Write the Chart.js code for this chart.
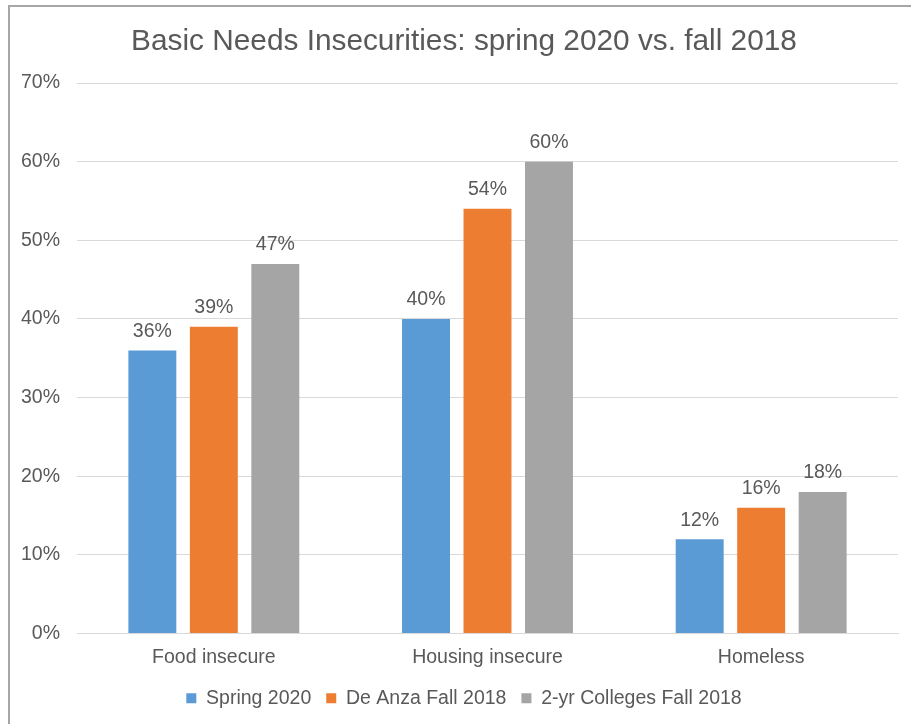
<!DOCTYPE html>
<html>
<head>
<meta charset="utf-8">
<style>
  html, body { margin: 0; padding: 0; background: #fff; overflow: hidden; }
  #wrap { position: relative; width: 911px; height: 724px; overflow: hidden; }
  #frame {
    position: absolute; left: 8px; top: 5px; width: 903px; height: 719px;
    border-top: 2px solid #a6a6a6; border-left: 2px solid #a6a6a6;
    box-sizing: border-box;
  }
  #chart { position: absolute; left: 0; top: 0; }
</style>
<script src="https://cdn.jsdelivr.net/npm/chart.js"></script>
</head>
<body>
<div id="wrap">
  <div id="frame"></div>
  <canvas id="chart" width="911" height="724"></canvas>
</div>
<script>
  var categories = ['Food insecure', 'Housing insecure', 'Homeless'];
  var spring2020 = [36, 40, 12];
  var deAnzaFall2018 = [39, 54, 16];
  var twoYearFall2018 = [47, 60, 18];
  var seriesNames = ['Spring 2020', 'De Anza Fall 2018', '2-yr Colleges Fall 2018'];
  var seriesColors = ['#5B9BD5', '#ED7D31', '#A5A5A5'];
  var chartTitle = 'Basic Needs Insecurities: spring 2020 vs. fall 2018';

  var textColor = '#595959';
  var fontFamily = '"Liberation Sans", Arial, sans-serif';
  var labelSize = 19.5;

  // value labels above each bar, plus the heading
  var barLabels = {
    id: 'barLabels',
    afterLayout: function (chart) {
      // centre the legend on the whole frame rather than the plot
      chart.legend.left += 15;
      chart.legend.right += 15;
    },
    afterDatasetsDraw: function (chart) {
      var ctx = chart.ctx;
      ctx.save();
      ctx.font = labelSize + 'px ' + fontFamily;
      ctx.fillStyle = textColor;
      ctx.textAlign = 'center';
      ctx.textBaseline = 'middle';
      chart.data.datasets.forEach(function (ds, i) {
        chart.getDatasetMeta(i).data.forEach(function (bar, j) {
          ctx.fillText(ds.data[j] + '%', bar.x, bar.y - 19);
        });
      });
      ctx.font = '29.8px ' + fontFamily;
      ctx.fillText(chartTitle, 464, 42);
      ctx.restore();
    }
  };

  var datasets = [spring2020, deAnzaFall2018, twoYearFall2018].map(function (values, i) {
    return {
      label: seriesNames[i],
      data: values,
      backgroundColor: seriesColors[i],
      categoryPercentage: 0.674,
      barPercentage: 0.78
    };
  });

  new Chart(document.getElementById('chart'), {
    type: 'bar',
    data: { labels: categories, datasets: datasets },
    plugins: [barLabels],
    options: {
      responsive: false,
      animation: false,
      layout: { padding: { left: 0, right: 13, top: 83, bottom: 6 } },
      plugins: {
        title: { display: false },
        legend: {
          position: 'bottom',
          labels: {
            color: textColor,
            font: { family: fontFamily, size: labelSize },
            boxWidth: 10,
            boxHeight: 10,
            padding: 15
          }
        },
        tooltip: { enabled: false }
      },
      scales: {
        x: {
          afterFit: function (scale) { scale.height = 40; },
          grid: { display: false },
          border: { color: '#d9d9d9', width: 1 },
          ticks: { color: textColor, font: { family: fontFamily, size: labelSize }, padding: 4 }
        },
        y: {
          min: 0,
          max: 70,
          afterFit: function (scale) { scale.width = 77; },
          grid: { color: '#d9d9d9', drawTicks: false },
          border: { display: false },
          ticks: {
            stepSize: 10,
            padding: 17,
            color: textColor,
            font: { family: fontFamily, size: labelSize },
            callback: function (v) { return v + '%'; }
          }
        }
      }
    }
  });
</script>
</body>
</html>
